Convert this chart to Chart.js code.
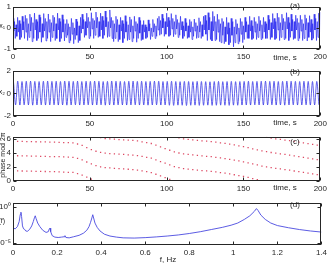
<!DOCTYPE html>
<html><head><meta charset="utf-8">
<script src="https://cdn.jsdelivr.net/npm/chart.js@4/dist/chart.umd.min.js"></script>
<style>
html,body{margin:0;padding:0;background:#fff;width:330px;height:266px;overflow:hidden}
canvas{position:absolute;left:0}
</style></head><body>
<canvas id="ca" width="330" height="64" style="top:0px"></canvas>
<canvas id="cb" width="330" height="66" style="top:64px"></canvas>
<canvas id="cc" width="330" height="66" style="top:130px"></canvas>
<canvas id="cd" width="330" height="70" style="top:196px"></canvas>
<script>
// ---------- DATA ----------
// panel (a): x1(t), upper / lower swing read every 1 s (hi at t, lo at t+0.5)
const x1Step = 1;
const x1Hi = [0.45,0.3,0.15,0.5,0.35,0.2,0.55,0.3,
 0.6,0.45,0.2,0.65,0.5,0.25,0.7,0.4,0.3,0.62,0.5,0.2,0.68,0.45,0.3,0.66,0.4,0.25,0.6,0.5,0.2,0.7,0.45,0.3,0.62,0.4,0.2,
 0.4,0.2,0.05,0.45,0.25,0.0,0.42,0.3,0.1,0.5,
 0.65,0.4,0.3,0.7,0.5,0.3,0.72,0.45,0.35,0.75,0.5,0.3,0.7,0.55,0.35,0.8,0.5,0.3,0.85,0.5,
 0.35,0.2,0.55,0.4,0.15,0.5,0.35,0.2,0.58,0.3,0.15,0.52,0.4,0.1,0.55,0.3,0.2,0.5,0.35,0.15,
 0.35,0.15,0.05,0.38,0.2,0.0,0.4,0.2,0.1,0.45,
 0.55,0.35,0.65,0.45,0.3,0.7,0.5,0.35,0.68,0.45,0.3,0.62,0.4,0.25,0.55,
 0.3,0.1,0.45,0.25,0.1,0.4,0.3,0.05,0.42,0.25,0.1,0.48,0.3,0.15,0.55,
 0.6,0.35,0.72,0.5,0.3,0.78,0.55,0.3,0.65,0.4,
 0.2,0.45,0.3,0.05,0.5,0.25,0.0,0.45,0.3,0.05,0.4,0.2,0.0,0.45,0.3,
 0.1,0.5,0.3,0.15,0.55,0.35,0.1,0.5,0.3,0.2,0.55,0.35,0.15,0.5,0.3,
 0.2,0.6,0.4,0.25,0.68,0.45,0.3,0.7,0.5,0.25,0.65,0.45,0.3,0.72,0.5,0.25,0.65,0.4,0.3,0.6,
 0.45,0.25,0.6,0.4,0.2,0.62,0.45,0.25,0.58,0.4,0.2,0.65,0.45,0.3,0.7,0.75];
const x1Lo = [-0.15,-0.5,-0.4,-0.2,-0.55,-0.45,-0.1,-0.5,
 -0.2,-0.6,-0.45,-0.15,-0.65,-0.5,-0.1,-0.6,-0.5,-0.2,-0.68,-0.45,-0.15,-0.62,-0.5,-0.2,-0.65,-0.45,-0.15,-0.6,-0.5,-0.1,-0.65,-0.5,-0.2,-0.62,-0.45,
 -0.35,-0.7,-0.6,-0.3,-0.75,-0.55,-0.35,-0.7,-0.6,-0.25,
 -0.05,-0.45,-0.35,0.0,-0.5,-0.4,-0.05,-0.5,-0.35,0.0,-0.45,-0.4,-0.1,-0.5,-0.35,0.05,-0.45,-0.4,0.0,-0.5,
 -0.65,-0.5,-0.2,-0.65,-0.55,-0.15,-0.7,-0.5,-0.2,-0.6,-0.55,-0.2,-0.65,-0.5,-0.15,-0.68,-0.5,-0.25,-0.6,-0.55,
 -0.2,-0.5,-0.45,-0.15,-0.55,-0.4,-0.2,-0.5,-0.4,-0.1,
 -0.35,-0.3,0.0,-0.4,-0.3,0.05,-0.4,-0.35,-0.05,-0.42,-0.3,-0.05,-0.45,-0.35,-0.1,
 -0.5,-0.4,-0.15,-0.5,-0.45,-0.2,-0.55,-0.4,-0.15,-0.5,-0.45,-0.2,-0.5,-0.4,-0.1,
 -0.3,-0.6,-0.1,-0.55,-0.62,-0.15,-0.6,-0.55,-0.2,-0.65,
 -0.7,-0.35,-0.75,-0.65,-0.3,-0.8,-0.7,-0.35,-0.9,-0.7,-0.3,-0.75,-0.65,-0.3,-0.7,
 -0.55,-0.2,-0.5,-0.5,-0.15,-0.55,-0.5,-0.2,-0.55,-0.45,-0.15,-0.55,-0.5,-0.2,-0.5,
 -0.5,-0.1,-0.55,-0.45,-0.05,-0.55,-0.5,-0.1,-0.6,-0.45,-0.1,-0.55,-0.5,-0.05,-0.6,-0.45,-0.15,-0.55,-0.5,-0.1,
 -0.6,-0.5,-0.15,-0.6,-0.5,-0.1,-0.62,-0.45,-0.2,-0.58,-0.5,-0.1,-0.6,-0.45,-0.2,0.0];

// panel (b): x2(t), successive maxima / minima, period read ~2.78 s
const x2Start = 0.3;
const x2Period = 2.78;
const x2Peaks = [1.06,1.08,1.05,1.07,1.08,1.06,1.05,1.07,1.08,1.06,1.07,1.05,1.08,1.07,1.06,1.08,1.05,1.07,
 1.06,1.08,1.07,1.05,1.06,1.08,1.07,1.06,1.05,1.07,1.08,1.06,1.07,1.05,1.06,1.08,1.07,1.05,
 1.06,1.07,1.05,1.04,1.06,1.05,1.04,1.06,1.05,1.04,1.03,1.05,1.06,1.04,1.05,1.06,1.04,1.05,
 1.06,1.07,1.05,1.06,1.07,1.08,1.06,1.07,1.05,1.06,1.08,1.07,1.06,1.05,1.07,1.06,1.05,1.06];
const x2Troughs = [-1.02,-1.03,-1.01,-1.02,-1.04,-1.02,-1.01,-1.03,-1.02,-1.01,-1.03,-1.02,-1.04,-1.02,-1.01,-1.03,-1.02,-1.01,
 -1.03,-1.02,-1.01,-1.04,-1.02,-1.03,-1.01,-1.02,-1.03,-1.02,-1.01,-1.03,-1.02,-1.04,-1.02,-1.01,-1.03,-1.02,
 -1.05,-1.06,-1.04,-1.05,-1.07,-1.05,-1.04,-1.06,-1.05,-1.04,-1.06,-1.05,-1.04,-1.05,-1.06,-1.04,-1.05,-1.03,
 -1.02,-1.03,-1.01,-1.02,-1.03,-1.02,-1.01,-1.03,-1.02,-1.04,-1.02,-1.01,-1.03,-1.02,-1.01,-1.03,-1.02,-1.01];

// panel (c): phase mod 2pi, three strobed branches
const phaseTimes = [0,3,6,9,12,15,18,21,24,27,30,33,36,39,42,45,48,51,54,57,60,63,66,69,72,75,78,81,84,87,90,93,96,99,
 102,105,108,111,114,117,120,123,126,129,132,135,138,141,144,147,150,153,156,159,162,165,168,171,174,177,180,183,186,189,192,195,198];
const phaseA = [5.65,5.64,5.62,5.61,5.59,5.58,5.56,5.55,5.53,5.52,5.5,5.47,5.44,5.41,5.26,5.05,4.75,4.47,4.23,4.07,3.95,3.9,3.86,3.81,
 3.77,3.72,3.68,3.61,3.49,3.37,3.25,3.01,2.77,2.53,2.29,2.05,1.9,1.77,1.7,1.62,1.55,1.49,1.43,1.37,1.29,1.2,1.11,1.01,0.89,0.77,
 0.65,0.5,0.35,0.2,0.05,6.21,6.1,6.0,5.91,5.82,5.73,5.62,5.52,5.41,5.31,5.2,5.1];
const phaseB = [3.6,3.59,3.57,3.56,3.54,3.53,3.51,3.5,3.48,3.47,3.45,3.42,3.39,3.36,3.21,3.0,2.7,2.42,2.18,2.02,1.9,1.85,1.81,1.76,
 1.72,1.67,1.63,1.56,1.44,1.32,1.2,0.96,0.72,0.48,0.24,0.02,6.13,6.0,5.93,5.85,5.78,5.72,5.66,5.6,5.52,5.43,5.34,5.24,5.12,5.0,
 4.88,4.73,4.58,4.43,4.28,4.16,4.05,3.95,3.86,3.77,3.68,3.57,3.47,3.36,3.26,3.15,3.05];
const phaseC = [1.45,1.44,1.42,1.41,1.39,1.38,1.36,1.35,1.33,1.32,1.3,1.27,1.24,1.21,1.06,0.85,0.55,0.27,0.03,6.15,6.03,5.98,5.94,5.89,
 5.85,5.8,5.76,5.69,5.57,5.45,5.33,5.09,4.85,4.61,4.37,4.13,3.98,3.85,3.78,3.7,3.63,3.57,3.51,3.45,3.37,3.28,3.19,3.09,2.97,2.85,
 2.73,2.58,2.43,2.28,2.13,2.01,1.9,1.8,1.71,1.62,1.53,1.42,1.32,1.21,1.11,1.0,0.9];

// panel (d): power spectrum, log10 S(f)
const freq = [0,0.01,0.02,0.028,0.033,0.036,0.039,0.043,0.048,0.052,0.058,0.065,0.075,0.085,0.092,0.098,0.101,0.105,0.112,0.122,
 0.135,0.15,0.16,0.165,0.168,0.171,0.178,0.19,0.205,0.22,0.232,0.236,0.24,0.255,0.275,0.3,0.32,0.335,0.345,0.352,0.358,0.362,
 0.366,0.372,0.382,0.395,0.415,0.44,0.47,0.5,0.55,0.6,0.65,0.7,0.75,0.8,0.85,0.9,0.95,0.99,1.02,1.05,1.075,1.095,1.105,1.112,
 1.125,1.145,1.17,1.2,1.25,1.3,1.35,1.4];
const logS = [-2.9,-3.0,-2.7,-2.0,-1.0,-0.7,-1.3,-2.6,-3.0,-3.05,-3.3,-3.35,-3.1,-2.6,-2.0,-1.4,-1.2,-1.6,-2.2,-2.7,
 -3.2,-3.5,-3.4,-3.0,-2.9,-3.4,-3.95,-4.15,-4.2,-4.15,-4.1,-3.95,-4.2,-4.25,-4.1,-3.9,-3.6,-3.2,-2.7,-2.1,-1.5,-1.05,
 -1.5,-2.2,-2.8,-3.3,-3.75,-4.0,-4.15,-4.25,-4.28,-4.22,-4.12,-4.0,-3.85,-3.65,-3.4,-3.1,-2.8,-2.5,-2.2,-1.7,-1.2,-0.6,-0.2,-0.45,
 -1.1,-1.7,-2.2,-2.55,-2.85,-3.1,-3.3,-3.45];

const timeTicks = [0,50,100,150,200];
const freqTicks = [0,0.2,0.4,0.6,0.8,1,1.2,1.4];

// ---------- helpers ----------
const FONT = '"Liberation Sans", Arial, sans-serif';
const INK = '#262626';
const deco = {
  id: 'deco',
  afterDraw(chart, args, opts) {
    const {ctx, chartArea: a, scales} = chart;
    const xs = scales.x, ys = scales.y;
    ctx.save();
    ctx.strokeStyle = INK; ctx.lineWidth = 1;
    const l = Math.round(a.left) + 0.5, r = Math.round(a.right) - 0.5, t = Math.round(a.top) + 0.5, b = Math.round(a.bottom) - 0.5;
    ctx.beginPath();
    const L = 3;
    xs.ticks.forEach(tk => { const p = Math.round(xs.getPixelForValue(tk.value)) + 0.5; ctx.moveTo(p, b); ctx.lineTo(p, b - L); ctx.moveTo(p, t); ctx.lineTo(p, t + L); });
    ys.ticks.forEach(tk => { const p = Math.round(ys.getPixelForValue(tk.value)) + 0.5; ctx.moveTo(l, p); ctx.lineTo(l + L, p); ctx.moveTo(r, p); ctx.lineTo(r - L, p); });
    ctx.stroke();
    ctx.strokeRect(l, t, r - l, b - t);
    ctx.fillStyle = INK;
    (opts.texts || []).forEach(tx => {
      ctx.save();
      ctx.font = (tx.size || 8) + 'px ' + FONT;
      ctx.textAlign = tx.align || 'center';
      ctx.textBaseline = 'middle';
      ctx.translate(tx.x, tx.y);
      if (tx.rot) ctx.rotate(tx.rot);
      ctx.fillText(tx.text, 0, 0);
      ctx.restore();
    });
    ctx.restore();
  }
};
function fixTicks(vals) { return function(scale) { scale.ticks = vals.map(v => ({value: v})); }; }
function mk(id, datasets, o) {
  return new Chart(document.getElementById(id), {
    data: {datasets},
    options: {
      responsive: false, animation: false, events: [],
      layout: {padding: {top: o.padTop, right: 8, left: 0, bottom: 0}},
      plugins: {legend: {display: false}, tooltip: {enabled: false}, deco: {texts: o.texts}},
      scales: {
        x: {type: 'linear', min: o.xmin, max: o.xmax,
            grid: {display: false, drawTicks: false}, border: {display: false},
            afterBuildTicks: fixTicks(o.xticks),
            afterFit: s => { s.height = o.xH; },
            ticks: {autoSkip: false, maxRotation: 0, padding: 3, color: INK, font: {family: FONT, size: 8},
                    callback: o.xcb || (v => String(v))}},
        y: {type: o.ytype || 'linear', min: o.ymin, max: o.ymax,
            grid: {display: false, drawTicks: false}, border: {display: false},
            afterBuildTicks: fixTicks(o.yticks),
            afterFit: s => { s.width = 13; },
            ticks: {autoSkip: false, padding: 2, color: INK, font: {family: FONT, size: 8},
                    callback: o.ycb || (v => String(v))}}
      }
    },
    plugins: [deco]
  });
}

// ---------- panel (a) ----------
const aPts = [];
for (let i = 0; i < Math.min(x1Hi.length, x1Lo.length); i++) {
  aPts.push({x: i * x1Step, y: x1Hi[i]});
  if (i * x1Step + 0.5 <= 200) aPts.push({x: i * x1Step + 0.5, y: x1Lo[i]});
}
mk('ca', [{type: 'line', data: aPts, borderColor: '#1a1aee', borderWidth: 0.6, pointRadius: 0, tension: 0}], {
  padTop: 2, xH: 15, xmin: 0, xmax: 200, xticks: timeTicks, ymin: -1, ymax: 1, yticks: [-1, 0, 1],
  texts: [{text: '(a)', x: 295, y: 6}, {text: 'time, s', x: 285, y: 58}, {text: 'x\u2081', x: 5, y: 26, align: 'right', size: 7}]
});

// ---------- panel (b) ----------
const bPts = [];
for (let k = 0; k < Math.min(x2Peaks.length, x2Troughs.length); k++) {
  bPts.push({x: x2Start + k * x2Period, y: x2Peaks[k]});
  bPts.push({x: x2Start + (k + 0.5) * x2Period, y: x2Troughs[k]});
}
mk('cb', [{type: 'line', data: bPts, borderColor: '#3a3ae6', borderWidth: 0.8, pointRadius: 0, tension: 0.4, cubicInterpolationMode: 'monotone'}], {
  padTop: 3, xH: 14, xmin: 0, xmax: 200, xticks: timeTicks, ymin: -2, ymax: 2, yticks: [-2, 0, 2],
  texts: [{text: '(b)', x: 295, y: 8}, {text: 'time, s', x: 285, y: 59}, {text: 'x\u2082', x: 5, y: 28, align: 'right', size: 7}]
});

// ---------- panel (c) ----------
const branch = arr => phaseTimes.map((t, i) => ({x: t, y: arr[i]}));
const dotStyle = {type: 'scatter', pointRadius: 0.9, pointStyle: 'rect', pointBackgroundColor: 'rgba(215,40,70,0.85)', pointBorderWidth: 0};
mk('cc', [
  Object.assign({data: branch(phaseA)}, dotStyle),
  Object.assign({data: branch(phaseB)}, dotStyle),
  Object.assign({data: branch(phaseC)}, dotStyle)
], {
  padTop: 2, xH: 15, xmin: 0, xmax: 200, xticks: timeTicks, ymin: 0, ymax: 2 * Math.PI, yticks: [0, 2, 4, 6],
  texts: [{text: '(c)', x: 295, y: 12}, {text: 'time, s', x: 285, y: 58},
          {text: 'phase mod 2\u03c0', x: 3, y: 25, rot: -Math.PI / 2, size: 7}]
});

// ---------- panel (d) ----------
const dPts = freq.map((f, i) => ({x: f, y: Math.pow(10, logS[i])}));
mk('cd', [{type: 'line', data: dPts, borderColor: '#4a4ae0', borderWidth: 0.9, pointRadius: 0, tension: 0}], {
  padTop: 2, xH: 21, xmin: 0, xmax: 1.4, xticks: freqTicks, xcb: v => String(+v.toFixed(1)),
  ytype: 'logarithmic', ymin: Math.pow(10, -5.24), ymax: Math.pow(10, 0.6), yticks: [1e-5, 1e0],
  ycb: v => (v >= 0.5 ? '10\u2070' : '10\u207b\u2075'),
  texts: [{text: '(d)', x: 295, y: 9}, {text: 'f, Hz', x: 168, y: 64}, {text: 'S(f)', x: 5, y: 25, align: 'right', size: 7}]
});
</script>
</body></html>
